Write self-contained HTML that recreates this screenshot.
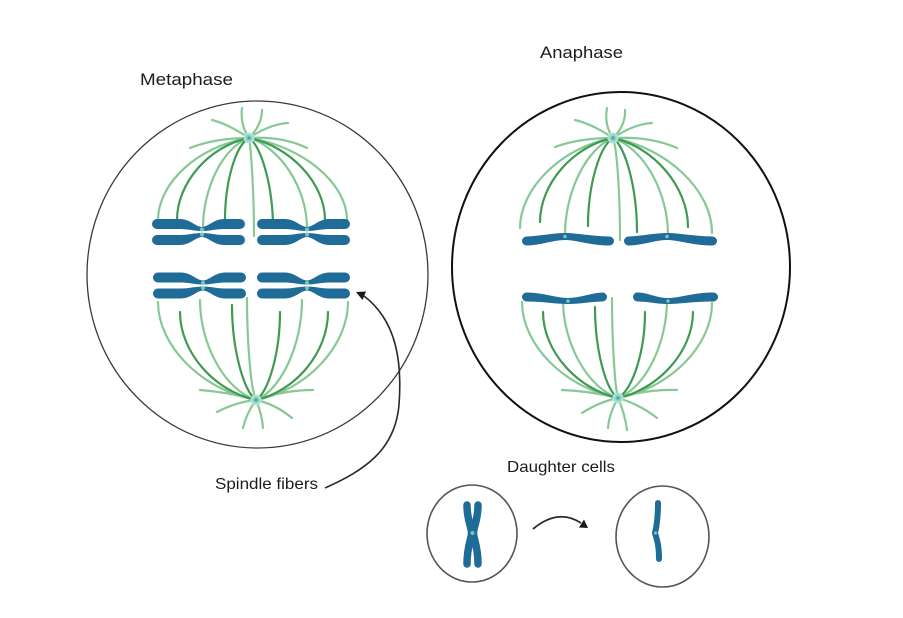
<!DOCTYPE html>
<html><head><meta charset="utf-8"><style>
html,body{margin:0;padding:0;background:#fff;}
svg{display:block;}
text{font-family:"Liberation Sans",Arial,sans-serif;fill:#1c1c1c;}
</style></head><body>
<svg width="903" height="618" viewBox="0 0 903 618" xmlns="http://www.w3.org/2000/svg">
<defs>
<radialGradient id="pole" cx="50%" cy="50%" r="50%">
<stop offset="0" stop-color="#2f8f8a"/><stop offset="0.45" stop-color="#8fd3c6"/><stop offset="1" stop-color="#bfe8dd"/>
</radialGradient>
<g id="xchr">
<path d="M -45,-13 L -22,-13 C -12,-13 -6,-5 0,-5 C 6,-5 12,-13 22,-13 L 38,-13 A 5,5 0 0 1 38,-3 L 22,-3 C 14,-3 8,-1 0,-1 C -8,-1 -14,-3 -22,-3 L -45,-3 A 5,5 0 0 1 -45,-13 Z"/>
<path d="M -45,13 L -22,13 C -12,13 -6,5 0,5 C 6,5 12,13 22,13 L 38,13 A 5,5 0 0 0 38,3 L 22,3 C 14,3 8,1 0,1 C -8,1 -14,3 -22,3 L -45,3 A 5,5 0 0 0 -45,13 Z"/>
<circle cx="0" cy="-2.5" r="2" fill="#7cc4c0"/><circle cx="0" cy="2.5" r="2" fill="#7cc4c0"/>
</g>
</defs>

<!-- Labels -->
<text x="140" y="85" font-size="17" textLength="93" lengthAdjust="spacingAndGlyphs">Metaphase</text>
<text x="540" y="58" font-size="17" textLength="83" lengthAdjust="spacingAndGlyphs">Anaphase</text>
<text x="215" y="489" font-size="16" textLength="103" lengthAdjust="spacingAndGlyphs">Spindle fibers</text>
<text x="507" y="472" font-size="16" textLength="108" lengthAdjust="spacingAndGlyphs">Daughter cells</text>

<!-- Cells -->
<ellipse cx="257.5" cy="274.5" rx="170.5" ry="173.5" fill="none" stroke="#3a3a3a" stroke-width="1.3"/>
<ellipse cx="621" cy="267" rx="169" ry="175" fill="none" stroke="#111" stroke-width="2"/>

<!-- Metaphase spindle -->
<g fill="none" stroke-width="2.2" stroke-linecap="round">
<g stroke="#86c994">
<path d="M249,138 C198,146 158,183 158,220"/>
<path d="M249,138 C223,147 203,188 203,228"/>
<path d="M249,138 C251,148 254,192 254,236"/>
<path d="M249,138 C280,147 307,188 307,228"/>
<path d="M249,138 C302,146 347,183 347,220"/>
<path d="M249,138 Q240,125 242,108"/>
<path d="M249,138 Q262,125 262,110"/>
<path d="M249,138 Q228,124 212,120"/>
<path d="M249,138 Q270,124 288,123"/>
<path d="M249,138 Q215,138 190,148"/>
<path d="M249,138 Q283,136 307,148"/>
<path d="M256,400 C202,390 158,346 158,302"/>
<path d="M256,400 C225,390 200,345 200,300"/>
<path d="M256,400 C251,390 247,344 247,298"/>
<path d="M256,400 C281,390 302,345 302,300"/>
<path d="M256,400 C307,390 348,346 348,302"/>
<path d="M256,400 Q228,392 200,390"/>
<path d="M256,400 Q236,402 217,412"/>
<path d="M256,400 Q246,414 243,428"/>
<path d="M256,400 Q262,414 263,428"/>
<path d="M256,400 Q275,404 292,418"/>
<path d="M256,400 Q285,390 313,390"/>
</g>
<g stroke="#3f9a53">
<path d="M249,138 C209,146 177,183 177,220"/>
<path d="M249,138 C235,146 225,183 225,220"/>
<path d="M249,138 C262,147 273,188 273,228"/>
<path d="M249,138 C290,146 325,183 325,220"/>
<path d="M256,400 C214,391 180,352 180,312"/>
<path d="M256,400 C243,390 232,348 232,305"/>
<path d="M256,400 C269,391 280,352 280,312"/>
<path d="M256,400 C296,391 328,352 328,312"/>
</g>
</g>
<circle cx="249" cy="138" r="5.5" fill="url(#pole)"/>
<circle cx="256" cy="400" r="5.5" fill="url(#pole)"/>

<!-- Metaphase chromosomes -->
<g fill="#1e6c97">
<use href="#xchr" transform="translate(202,232)"/>
<use href="#xchr" transform="translate(307,232)"/>
<use href="#xchr" transform="translate(203,285.5)"/>
<use href="#xchr" transform="translate(307,285.5)"/>
</g>

<!-- Anaphase spindle -->
<g fill="none" stroke-width="2.2" stroke-linecap="round">
<g stroke="#86c994">
<path d="M613,138 C562,147 520,188 520,228"/>
<path d="M613,138 C587,148 565,191 565,235"/>
<path d="M613,138 C617,148 620,194 620,240"/>
<path d="M613,138 C643,148 668,191 668,235"/>
<path d="M613,138 C667,148 712,190 712,233"/>
<path d="M613,138 Q604,125 607,108"/>
<path d="M613,138 Q626,125 625,110"/>
<path d="M613,138 Q592,124 575,120"/>
<path d="M613,138 Q634,124 652,123"/>
<path d="M613,138 Q579,138 555,147"/>
<path d="M613,138 Q650,136 677,148"/>
<path d="M618,398 C565,388 522,345 522,302"/>
<path d="M618,398 C588,388 563,344 563,300"/>
<path d="M618,398 C615,388 612,343 612,298"/>
<path d="M618,398 C645,388 667,344 667,300"/>
<path d="M618,398 C670,388 712,346 712,303"/>
<path d="M618,398 Q590,391 562,390"/>
<path d="M618,398 Q599,402 582,413"/>
<path d="M618,398 Q609,414 608,428"/>
<path d="M618,398 Q625,414 627,430"/>
<path d="M618,398 Q639,404 657,418"/>
<path d="M618,398 Q648,389 677,390"/>
</g>
<g stroke="#3f9a53">
<path d="M613,138 C573,146 540,184 540,222"/>
<path d="M613,138 C599,147 588,186 588,226"/>
<path d="M613,138 C626,147 637,190 637,232"/>
<path d="M613,138 C654,147 688,187 688,227"/>
<path d="M618,398 C577,389 543,351 543,312"/>
<path d="M618,398 C605,389 595,348 595,307"/>
<path d="M618,398 C633,389 645,351 645,312"/>
<path d="M618,398 C659,389 693,351 693,312"/>
</g>
</g>
<circle cx="613" cy="138" r="5.5" fill="url(#pole)"/>
<circle cx="618" cy="398" r="5.5" fill="url(#pole)"/>

<!-- Anaphase chromatids -->
<g fill="#1e6c97">
<path transform="translate(565,241)" d="M -38.5,-4.5 C -25,-5 -12,-8 0,-8 C 12,-8 25,-5 44.5,-4.5 A 4.5,4.5 0 0 1 44.5,4.5 C 25,4.5 12,-1 0,-1 C -12,-1 -25,4.5 -38.5,4.5 A 4.5,4.5 0 0 1 -38.5,-4.5 Z"/>
<path transform="translate(667,241)" d="M -38.5,-4.5 C -25,-5 -12,-8 0,-8 C 12,-8 25,-5 45.5,-4.5 A 4.5,4.5 0 0 1 45.5,4.5 C 25,4.5 12,-1 0,-1 C -12,-1 -25,4.5 -38.5,4.5 A 4.5,4.5 0 0 1 -38.5,-4.5 Z"/>
<path transform="translate(568,297)" d="M -41.5,-4.5 C -25,-4.5 -12,1 0,1 C 12,1 25,-4.5 34.5,-4.5 A 4.5,4.5 0 0 1 34.5,4.5 C 25,4.5 12,7 0,7 C -12,7 -25,4.5 -41.5,4.5 A 4.5,4.5 0 0 1 -41.5,-4.5 Z"/>
<path transform="translate(668,297)" d="M -30.5,-4.5 C -20,-4.5 -12,1 0,1 C 12,1 25,-4.5 45.5,-4.5 A 4.5,4.5 0 0 1 45.5,4.5 C 25,4.5 12,7 0,7 C -12,7 -20,4.5 -30.5,4.5 A 4.5,4.5 0 0 1 -30.5,-4.5 Z"/>
</g>
<g fill="#7cc4c0">
<circle cx="565" cy="236.5" r="1.8"/><circle cx="667" cy="236.5" r="1.8"/>
<circle cx="568" cy="301" r="1.8"/><circle cx="668" cy="301" r="1.8"/>
</g>

<!-- Spindle fibers pointer -->
<path d="M325,488 C365,470 395,450 399,405 C402,365 398,322 364,296" fill="none" stroke="#2a2a2a" stroke-width="1.6"/>
<polygon points="356,292 366,291.5 362.5,300" fill="#1a1a1a"/>

<!-- Daughter cells -->
<ellipse cx="472" cy="533.5" rx="45" ry="48.5" fill="none" stroke="#555" stroke-width="1.6"/>
<ellipse cx="662.5" cy="536.5" rx="46.5" ry="50.5" fill="none" stroke="#555" stroke-width="1.6"/>
<g fill="none" stroke="#1e6c97" stroke-width="7.5" stroke-linecap="round">
<path d="M467,505 C467,520 471.5,527 471.5,533 C471.5,539 467,546 467,564"/>
<path d="M478,505 C478,520 473.5,527 473.5,533 C473.5,539 478,546 478,564"/>
</g>
<circle cx="472.5" cy="533" r="2" fill="#7cc4c0"/>
<path d="M658,503 C658,515 657,525 655,533 C657,540 659,545 659,559" fill="none" stroke="#1e6c97" stroke-width="6" stroke-linecap="round"/>
<circle cx="655.5" cy="533" r="1.6" fill="#7cc4c0"/>

<path d="M533,529 Q558,508 581,523" fill="none" stroke="#2a2a2a" stroke-width="1.8"/>
<polygon points="588,528 579,527.5 584,519.5" fill="#1a1a1a"/>
</svg>
</body></html>
